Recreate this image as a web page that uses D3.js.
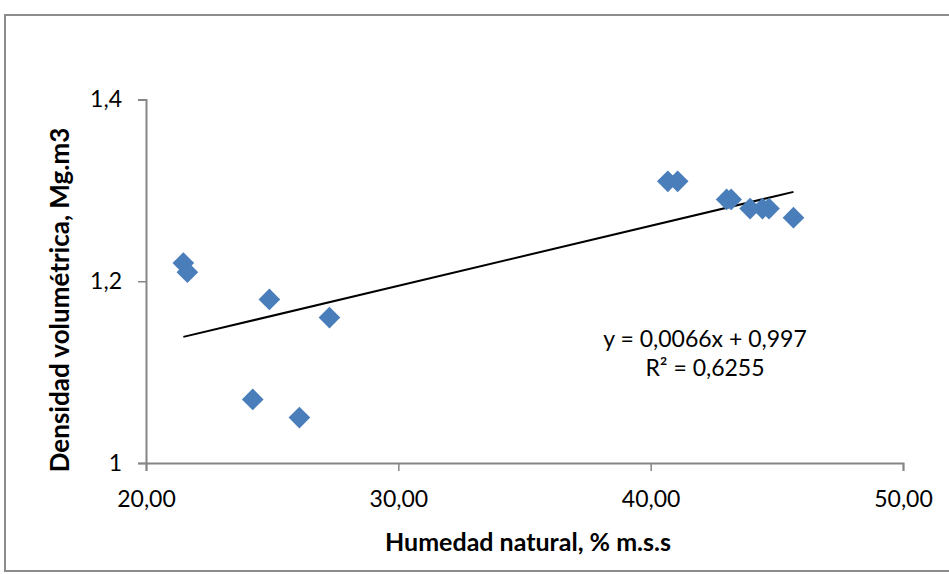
<!DOCTYPE html>
<html>
<head>
<meta charset="utf-8">
<script src="https://cdn.jsdelivr.net/npm/d3@7"></script>
<style>
  body { margin: 0; background: #fff; }
  svg { display: block; }
</style>
</head>
<body>
<div id="chart"></div>
<script>
// humedad natural (% m.s.s) and densidad volumetrica (Mg.m3)
const humedad = [21.48, 21.64, 24.89, 27.27, 24.23, 26.08, 40.68, 41.07, 43.01, 43.19, 43.94, 44.43, 44.69, 45.66];
const densidad = [1.22, 1.21, 1.18, 1.16, 1.07, 1.05, 1.31, 1.31, 1.29, 1.29, 1.28, 1.28, 1.28, 1.27];
const xTicks = [20, 30, 40, 50];
const yTicks = [1, 1.2, 1.4];
const slope = 0.0066;
const intercept = 0.997;
const eqLines = ["y = 0,0066x + 0,997", "R² = 0,6255"];

const width = 949, height = 574;
const font = "Lato, 'Open Sans', sans-serif";
const axisColor = "#868686";

const svg = d3.select("#chart").append("svg")
  .attr("width", width)
  .attr("height", height);

// outer chart frame
svg.append("rect")
  .attr("x", 5).attr("y", 15)
  .attr("width", 980).attr("height", 556)
  .attr("fill", "#fff")
  .attr("stroke", "#8c8c8c")
  .attr("stroke-width", 2);

const x = d3.scaleLinear().domain([20, 50]).range([146, 903]);
const y = d3.scaleLinear().domain([1, 1.4]).range([463, 99.5]);

const fmtX = v => d3.format(".2f")(v).replace(".", ",");
const fmtY = v => String(+v.toFixed(1)).replace(".", ",");

const xAxis = svg.append("g")
  .attr("transform", "translate(0," + y(1) + ")")
  .call(d3.axisBottom(x).tickValues(xTicks).tickFormat(fmtX).tickSizeOuter(0).tickSize(8).tickPadding(20));

const yAxis = svg.append("g")
  .attr("transform", "translate(" + x(20) + ",0)")
  .call(d3.axisLeft(y).tickValues(yTicks).tickFormat(fmtY).tickSizeOuter(0).tickSize(8).tickPadding(16));

[xAxis, yAxis].forEach(g => {
  g.select(".domain").attr("stroke", axisColor).attr("stroke-width", 2);
  g.selectAll(".tick line").attr("stroke", axisColor).attr("stroke-width", 1.5);
  g.selectAll(".tick text")
    .style("font-family", font)
    .style("font-size", "23px")
    .attr("fill", "#000");
});

// trend line
const xmin = d3.min(humedad), xmax = d3.max(humedad);
svg.append("line")
  .attr("x1", x(xmin)).attr("y1", y(slope * xmin + intercept))
  .attr("x2", x(xmax)).attr("y2", y(slope * xmax + intercept))
  .attr("stroke", "#000")
  .attr("stroke-width", 2);

// points
const points = humedad.map((h, i) => ({h: h, d: densidad[i]}));
svg.append("g")
  .selectAll("path")
  .data(points)
  .enter().append("path")
    .attr("d", d3.symbol(d3.symbolSquare, 235))
    .attr("transform", p => "translate(" + x(p.h) + "," + y(p.d) + ")rotate(45)")
    .attr("fill", "#4a7ebb");

// equation label
svg.append("g")
  .selectAll("text")
  .data(eqLines)
  .enter().append("text")
    .attr("x", 705)
    .attr("y", (t, i) => 347 + i * 29)
    .attr("text-anchor", "middle")
    .style("font-family", font)
    .style("font-size", "23px")
    .text(t => t);

// axis titles
svg.append("text")
  .attr("x", 528).attr("y", 551)
  .attr("text-anchor", "middle")
  .style("font-family", font)
  .style("font-size", "25px")
  .style("font-weight", "bold")
  .text("Humedad natural, % m.s.s");

svg.append("text")
  .attr("transform", "translate(69,300)rotate(-90)")
  .attr("text-anchor", "middle")
  .style("font-family", font)
  .style("font-size", "26px")
  .style("font-weight", "bold")
  .text("Densidad volumétrica, Mg.m3");
</script>
</body>
</html>
